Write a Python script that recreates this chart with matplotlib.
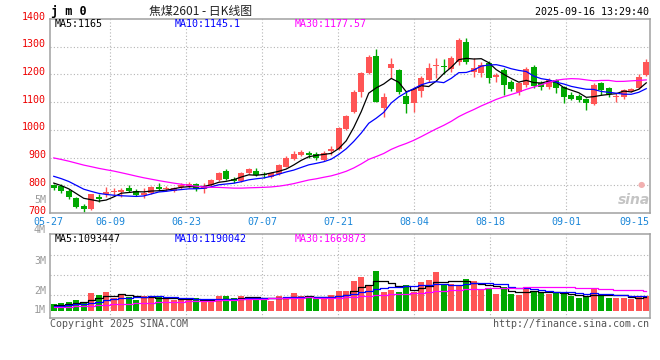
import matplotlib.pyplot as plt
import matplotlib.transforms as mtransforms
import numpy as np
import pandas as pd

## daily bars of jm0, 05-27 .. 09-16 (80 trading days)
opens = [800, 797, 781, 755, 724, 715, 759, 767, 777, 776,
         790, 778, 766, 772, 793, 786, 780, 793, 798, 805,
         787, 801, 818, 850, 822, 817, 843, 852, 840, 830,
         840, 867, 896, 911, 918, 913, 892, 922, 930, 1003,
         1066, 1138, 1206, 1268, 1080, 1222, 1215, 1122, 1096, 1140,
         1180, 1229, 1231, 1218, 1246, 1316, 1210, 1204, 1242, 1190,
         1216, 1174, 1135, 1162, 1228, 1170, 1155, 1180, 1153, 1124,
         1122, 1110, 1094, 1168, 1150, 1118, 1120, 1140, 1150, 1198]
highs = [806, 804, 786, 758, 731, 770, 767, 794, 790, 792,
         800, 786, 790, 797, 807, 797, 795, 807, 811, 809,
         807, 822, 849, 858, 831, 849, 862, 861, 847, 849,
         877, 905, 924, 927, 925, 920, 922, 942, 1012, 1054,
         1144, 1210, 1270, 1290, 1132, 1258, 1220, 1138, 1153, 1194,
         1240, 1260, 1255, 1265, 1330, 1333, 1258, 1244, 1248, 1206,
         1222, 1180, 1172, 1228, 1234, 1178, 1186, 1184, 1160, 1138,
         1130, 1114, 1168, 1172, 1154, 1132, 1148, 1152, 1200, 1256]
lows = [784, 772, 749, 719, 705, 712, 739, 758, 766, 756,
        774, 763, 755, 768, 780, 781, 774, 787, 791, 780,
        773, 799, 816, 818, 810, 811, 840, 832, 826, 828,
        836, 865, 891, 904, 898, 892, 889, 910, 928, 998,
        1060, 1117, 1203, 1100, 1048, 1186, 1130, 1062, 1066, 1120,
        1174, 1188, 1202, 1208, 1234, 1236, 1192, 1192, 1170, 1174,
        1126, 1140, 1126, 1156, 1150, 1143, 1146, 1132, 1096, 1106,
        1100, 1072, 1088, 1126, 1120, 1102, 1112, 1135, 1148, 1194]
closes = [792, 778, 756, 723, 716, 767, 752, 776, 780, 782,
          780, 766, 773, 795, 787, 791, 791, 800, 806, 786,
          797, 819, 846, 823, 816, 845, 859, 838, 836, 845,
          874, 900, 912, 919, 910, 898, 918, 930, 1007, 1050,
          1138, 1204, 1264, 1102, 1120, 1238, 1135, 1092, 1146, 1186,
          1222, 1234, 1228, 1258, 1324, 1246, 1222, 1234, 1186, 1198,
          1162, 1147, 1168, 1218, 1158, 1154, 1180, 1150, 1120, 1112,
          1108, 1097, 1162, 1144, 1128, 1122, 1144, 1146, 1192, 1244]
# volume in millions of lots
volume = [0.59, 0.70, 0.79, 0.93, 0.68, 1.55, 1.36, 1.64, 1.13, 1.44,
          1.22, 0.93, 1.27, 1.08, 1.16, 0.99, 0.93, 0.99, 0.93, 1.08,
          0.79, 0.79, 1.27, 1.27, 1.08, 1.27, 1.16, 1.16, 0.99, 0.85,
          1.27, 1.16, 1.53, 1.27, 1.16, 0.99, 1.16, 1.36, 1.69, 1.69,
          2.54, 2.86, 2.20, 3.39, 1.64, 1.78, 1.58, 2.20, 1.61, 2.43,
          2.63, 3.28, 2.20, 2.33, 2.20, 2.71, 2.54, 1.86, 1.86, 1.44,
          2.06, 1.44, 1.36, 1.92, 1.72, 1.64, 1.44, 1.50, 1.44, 1.27,
          1.13, 1.21, 1.84, 1.44, 1.13, 1.13, 1.13, 1.02, 1.27, 1.27]

## the 29 sessions before the window, estimated from where the MA lines start
pre_close = [945, 940, 935, 930, 938, 932, 928, 925, 958, 962,
             955, 950, 948, 940, 930, 925, 920, 915, 890, 872,
             862, 858, 862, 856, 846, 824, 814, 808, 802]
pre_volume = [0.30, 0.31, 0.29, 0.30, 0.32, 0.30, 0.28, 0.30, 0.31, 0.30,
              0.29, 0.30, 0.31, 0.30, 0.29, 0.30, 0.31, 0.30, 0.30, 0.29,
              0.36, 0.35, 0.37, 0.36, 0.36, 0.44, 0.46, 0.45, 0.46]

tick_labels = ['05-27', '06-09', '06-23', '07-07', '07-21', '08-04', '08-18', '09-01', '09-15']
price_ticks = [700, 800, 900, 1000, 1100, 1200, 1300, 1400]

RED = '#ff5555'
GREEN = '#00a800'
GRID = '#b4b4b4'
FRAME = '#a0a0a0'
BLUE_TXT = '#1a86d8'

W, H = 660, 360
fig = plt.figure(figsize=(6.6, 3.6), dpi=100)
fig.patch.set_facecolor('white')

def fx(px):
    return px / W

def fy(py):
    return 1 - py / H

ax = fig.add_axes([fx(50), fy(213), 600 / W, (213 - 19) / H])
av = fig.add_axes([fx(50), fy(318), 600 / W, (318 - 234) / H])

n = len(closes)
x = np.arange(n)
o = np.array(opens, float)
c = np.array(closes, float)
up = c >= o
colors = np.where(up, RED, GREEN)

# moving averages
allc = pd.Series(pre_close + closes, dtype=float)
allv = pd.Series(pre_volume + volume, dtype=float)
k = len(pre_close)
ma = {w: allc.rolling(w).mean().values[k:] for w in (5, 10, 30)}
vma = {w: allv.rolling(w).mean().values[k:] for w in (5, 10, 30)}

# px per bar is 7.5; the vertical grid is every 76 px starting at x=110
grid_x = [7.5 + i * 76 / 7.5 for i in range(7)]

for a in (ax, av):
    a.set_xlim(-0.5, n - 0.5)
    a.set_xticks([])
    a.set_yticks([])
    for s in a.spines.values():
        s.set_color(FRAME)
        s.set_linewidth(1.1)
    for gx in grid_x:
        a.axvline(gx, color=GRID, lw=0.8, ls=(0, (1, 2)), zorder=0)

## price panel
ax.set_ylim(700, 1400)
for p in price_ticks[1:-1]:
    ax.axhline(p, color=GRID, lw=0.8, ls=(0, (1, 2)), zorder=0)

ax.vlines(x, lows, highs, colors=colors, lw=1.0, zorder=2)
body = np.maximum(np.abs(c - o), 2.5)
ax.bar(x, body, bottom=np.minimum(o, c), width=0.76, color=colors, zorder=3, linewidth=0)

ax.plot(x, ma[5], color='black', lw=0.9, zorder=4)
ax.plot(x, ma[10], color='#0000ff', lw=0.9, zorder=4)
ax.plot(x, ma[30], color='#ff00ff', lw=0.9, zorder=4)

up2 = mtransforms.ScaledTranslation(0, 2.5 / 100, fig.dpi_scale_trans)
ytr = ax.get_yaxis_transform() + up2
for p in price_ticks:
    ax.text(-4 / 600, p, str(p), transform=ytr, ha='right', va='center',
            color='#ee0000', fontsize=7.2, family='DejaVu Sans Mono', clip_on=False)

xtr = ax.get_xaxis_transform()
label_x = [-0.7] + grid_x + [77.4]
for lx, lab in zip(label_x, tick_labels):
    ax.text(lx, -9 / 194, lab, transform=xtr, ha='center', va='center',
            color=BLUE_TXT, fontsize=7.2, family='DejaVu Sans Mono', clip_on=False)

## volume panel, 0 at px 311 and 11.8 px per million
vpx = 11.8
av.set_ylim(-(318 - 311) / vpx, (311 - 234) / vpx)
for py in (255, 275, 295):
    av.axhline((311 - py) / vpx, color=GRID, lw=0.8, ls=(0, (1, 2)), zorder=0)
av.bar(x, volume, width=0.76, color=colors, linewidth=0, zorder=2)
av.plot(x, vma[5], color='black', lw=0.9, zorder=4, drawstyle='steps-mid')
av.plot(x, vma[10], color='#0000ff', lw=0.9, zorder=4, drawstyle='steps-mid')
av.plot(x, vma[30], color='#ff00ff', lw=0.9, zorder=4, drawstyle='steps-mid')

for lab, py in [('5M', 200), ('4M', 230), ('3M', 261), ('2M', 291), ('1M', 310)]:
    fig.text(fx(46), fy(py), lab, ha='right', va='center', color='#9a9a9a',
             fontsize=7.2, family='DejaVu Sans Mono')

## header and legends
mono = dict(family='DejaVu Sans Mono', fontsize=7.2, va='center')
fig.text(fx(51), fy(12), 'j m 0', ha='left', va='center', fontsize=8.5,
         family='DejaVu Sans Mono', fontweight='bold', color='black')
fig.text(fx(201), fy(12), '焦煤2601 - 日K线图', ha='center', va='center', fontsize=8.6,
         family=['Noto Sans CJK SC', 'DejaVu Sans'], color='#222222')
fig.text(fx(649), fy(12), '2025-09-16 13:29:40', ha='right', color='black', **mono)

fig.text(fx(55), fy(24), 'MA5:1165', ha='left', color='black', **mono)
fig.text(fx(175), fy(24), 'MA10:1145.1', ha='left', color='#0000ff', **mono)
fig.text(fx(295), fy(24), 'MA30:1177.57', ha='left', color='#ff00ff', **mono)

fig.text(fx(55), fy(239), 'MA5:1093447', ha='left', color='black', **mono)
fig.text(fx(175), fy(239), 'MA10:1190042', ha='left', color='#0000ff', **mono)
fig.text(fx(295), fy(239), 'MA30:1669873', ha='left', color='#ff00ff', **mono)

fig.text(fx(50), fy(324), 'Copyright 2025 SINA.COM', ha='left', color='#555555', **mono)
fig.text(fx(649), fy(324), 'http://finance.sina.com.cn', ha='right', color='#555555', **mono)

# sina watermark
fig.text(fx(634), fy(200), 'sina', ha='center', va='center', fontsize=10, style='italic',
         fontweight='bold', color='#c4c4c4', family='DejaVu Sans')
fig.text(fx(641), fy(185), '●', ha='center', va='center', fontsize=6, color='#f2b0b0',
         family='DejaVu Sans')

fig.savefig('out.png', dpi=100)
